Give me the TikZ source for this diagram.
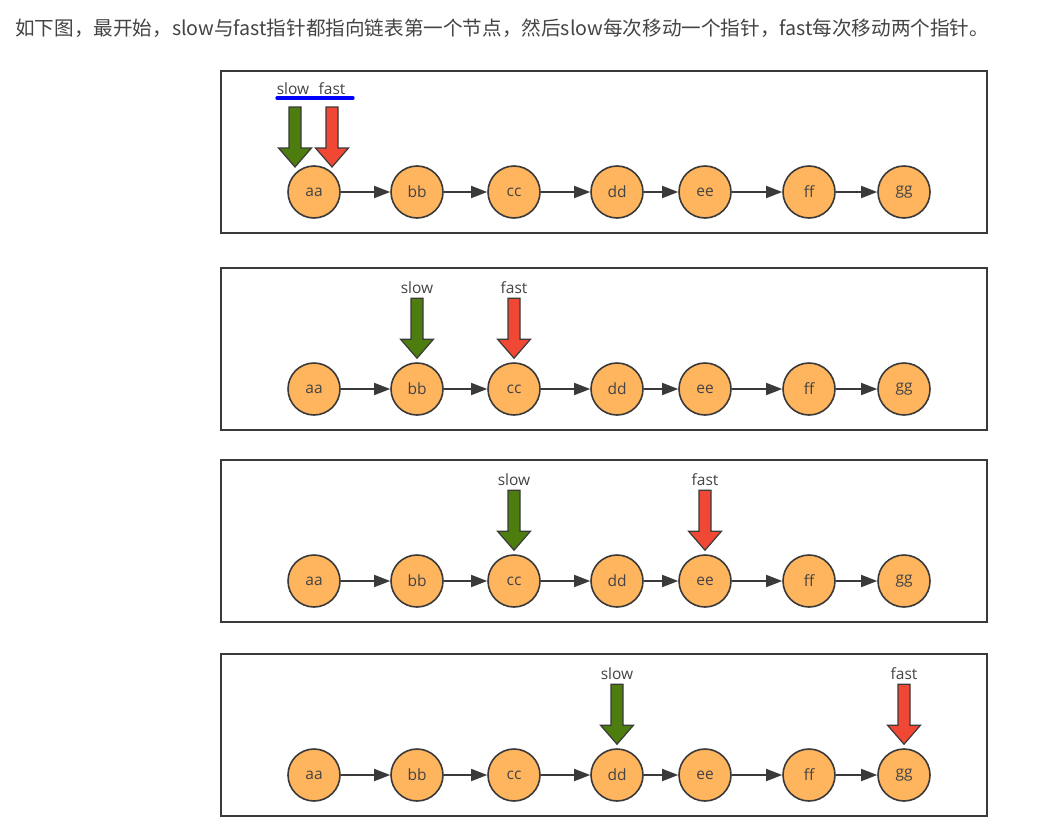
\documentclass[tikz,border=0pt]{standalone}
\usepackage{fontspec}
\setmainfont{Open Sans}
\newfontfamily\cjk{Noto Sans CJK SC}
\usetikzlibrary{arrows.meta, positioning, calc}

\definecolor{nodefill}{HTML}{FFB45E}
\definecolor{edgegray}{HTML}{3A3A3A}
\definecolor{slowgreen}{HTML}{4C7D0E}
\definecolor{fastred}{HTML}{F04834}
\definecolor{textgray}{HTML}{444444}

% block arrow from top point down to tip point
\newcommand\ptrarrow[3]{%
  \draw[ptr, fill=#1] ($(#2)+(-6,0)$) -- ($(#3)+(-6,19)$) -- ($(#3)+(-16.5,19)$)
    -- (#3) -- ($(#3)+(16.5,19)$) -- ($(#3)+(6,19)$) -- ($(#2)+(6,0)$) -- cycle;}

\begin{document}
\begin{tikzpicture}[
    x=1pt, y=1pt,
    listnode/.style={circle, draw=edgegray, line width=1.6pt, fill=nodefill, minimum size=52pt, inner sep=0pt, font=\fontsize{15.5}{17}\selectfont, text=textgray},
    link/.style={-{Triangle[length=16pt,width=12pt]}, line width=1.6pt, draw=edgegray},
    panel/.style={draw=edgegray, line width=1.8pt},
    ptr/.style={draw=edgegray, line width=1.2pt, line join=miter},
    ptrlabel/.style={font=\fontsize{15.5}{17}\selectfont, text=textgray, inner sep=1pt}
]
    \useasboundingbox (0,0) rectangle (1040,-835);
    \fill[white] (0,0) rectangle (1040,-835);

    % heading
    \node[anchor=west, inner sep=0pt, text=textgray, font=\cjk\fontsize{19.6}{22}\selectfont] (title) at (15,-28)
        {如下图，最开始，slow与fast指针都指向链表第一个节点，然后slow每次移动一个指针，fast每次移动两个指针。};

    % four panels, each with the same list
    \foreach \p/\y in {1/192, 2/389, 3/581, 4/775} {
        \draw[panel] (221,-\y+121) rectangle (987,-\y-41);
        \foreach \n/\x in {aa/314, bb/417, cc/514, dd/617, ee/705, ff/809, gg/904}
            \node[listnode] (\n\p) at (\x,-\y) {\n};
        \foreach \a/\b in {aa/bb, bb/cc, cc/dd, dd/ee, ee/ff, ff/gg}
            \draw[link] (\a\p) -- (\b\p);
    }

    % panel 1: both at aa
    \coordinate (slow1tip) at (295,-167);
    \coordinate (fast1tip) at (332,-167);
    \coordinate (slow1top) at (295,-107);
    \coordinate (fast1top) at (332,-107);
    \ptrarrow{slowgreen}{slow1top}{slow1tip}
    \ptrarrow{fastred}{fast1top}{fast1tip}
    \node[ptrlabel] (slow1) at (293,-89) {slow};
    \node[ptrlabel] (fast1) at (332,-89) {fast};
    \draw[blue, line width=3.2pt, line cap=round] (277,-98) -- (353,-98);

    % panel 2: slow at bb, fast at cc
    \coordinate (slow2tip) at ([yshift=4pt]bb2.north);
    \coordinate (slow2top) at ([yshift=60pt]slow2tip);
    \coordinate (fast2tip) at ([yshift=4pt]cc2.north);
    \coordinate (fast2top) at ([yshift=60pt]fast2tip);
    \ptrarrow{slowgreen}{slow2top}{slow2tip}
    \ptrarrow{fastred}{fast2top}{fast2tip}
    \node[ptrlabel, above=3pt of slow2top] (slow2) {slow};
    \node[ptrlabel, above=3pt of fast2top] (fast2) {fast};

    % panel 3: slow at cc, fast at ee
    \coordinate (slow3tip) at ([yshift=4pt]cc3.north);
    \coordinate (slow3top) at ([yshift=60pt]slow3tip);
    \coordinate (fast3tip) at ([yshift=4pt]ee3.north);
    \coordinate (fast3top) at ([yshift=60pt]fast3tip);
    \ptrarrow{slowgreen}{slow3top}{slow3tip}
    \ptrarrow{fastred}{fast3top}{fast3tip}
    \node[ptrlabel, above=3pt of slow3top] (slow3) {slow};
    \node[ptrlabel, above=3pt of fast3top] (fast3) {fast};

    % panel 4: slow at dd, fast at gg
    \coordinate (slow4tip) at ([yshift=4pt]dd4.north);
    \coordinate (slow4top) at ([yshift=60pt]slow4tip);
    \coordinate (fast4tip) at ([yshift=4pt]gg4.north);
    \coordinate (fast4top) at ([yshift=60pt]fast4tip);
    \ptrarrow{slowgreen}{slow4top}{slow4tip}
    \ptrarrow{fastred}{fast4top}{fast4tip}
    \node[ptrlabel, above=3pt of slow4top] (slow4) {slow};
    \node[ptrlabel, above=3pt of fast4top] (fast4) {fast};
\end{tikzpicture}
\end{document}
